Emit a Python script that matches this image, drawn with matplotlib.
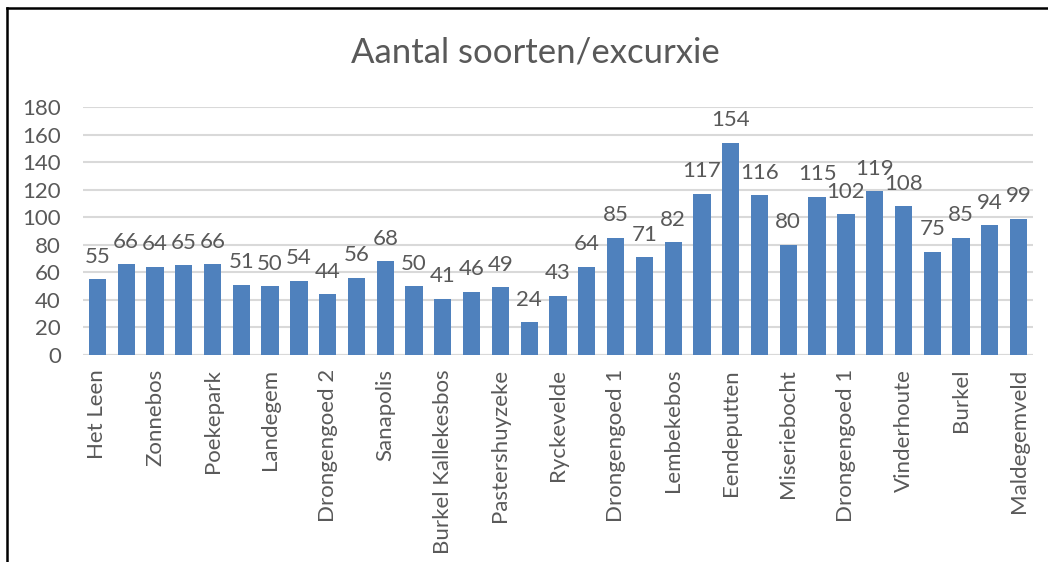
import matplotlib.pyplot as plt
from matplotlib.lines import Line2D

# aantal soorten per excursie
waarden = [55, 66, 64, 65, 66, 51, 50, 54, 44, 56, 68, 50, 41, 46, 49, 24, 43,
           64, 85, 71, 82, 117, 154, 116, 80, 115, 102, 119, 108, 75, 85, 94, 99]
labels = ["Het Leen", "", "Zonnebos", "", "Poekepark", "", "Landegem", "",
          "Drongengoed 2", "", "Sanapolis", "", "Burkel Kallekesbos", "",
          "Pastershuyzeke", "", "Ryckevelde", "", "Drongengoed 1", "",
          "Lembekebos", "", "Eendeputten", "", "Miseriebocht", "",
          "Drongengoed 1", "", "Vinderhoute", "", "Burkel", "", "Maldegemveld"]
yticks = [0, 20, 40, 60, 80, 100, 120, 140, 160, 180]

plt.rcParams["font.family"] = ["Lato", "DejaVu Sans"]
tekstkleur = "#595959"

fig = plt.figure(figsize=(10.48, 5.62), dpi=100)
ax = fig.add_axes([83 / 1048, 1 - 355 / 562, 950 / 1048, 248 / 562])

x = range(len(waarden))
bars = ax.bar(x, waarden, width=0.6, color="#4F81BD", zorder=3)
for xi, v in zip(x, waarden):
    ax.text(xi, v + 9, str(v), ha="center", va="bottom", fontsize=16, color=tekstkleur)

ax.set_xlim(-0.5, len(waarden) - 0.5)
ax.set_ylim(0, 180)
ax.set_yticks(yticks)
ax.set_xticks(list(x))
ax.set_xticklabels(labels, rotation=90)
ax.tick_params(axis="both", length=0, labelsize=16, colors=tekstkleur)
ax.tick_params(axis="x", pad=10)
ax.tick_params(axis="y", pad=16)
ax.grid(axis="y", color="#D9D9D9", linewidth=1.5, zorder=0)
for s in ax.spines.values():
    s.set_visible(False)
ax.axhline(0, color="#D9D9D9", linewidth=1.5, zorder=2)

fig.text(535 / 1048, 1 - 52 / 562, "Aantal soorten/excurxie", ha="center", va="center",
         fontsize=25, color=tekstkleur)

# kader linksboven
fig.add_artist(Line2D([7 / 1048, 7 / 1048], [0, 1 - 8 / 562], color="black", linewidth=1.8,
                      transform=fig.transFigure))
fig.add_artist(Line2D([7 / 1048, 1], [1 - 8 / 562, 1 - 8 / 562], color="black", linewidth=1.8,
                      transform=fig.transFigure))

fig.savefig("out.png", dpi=100)
